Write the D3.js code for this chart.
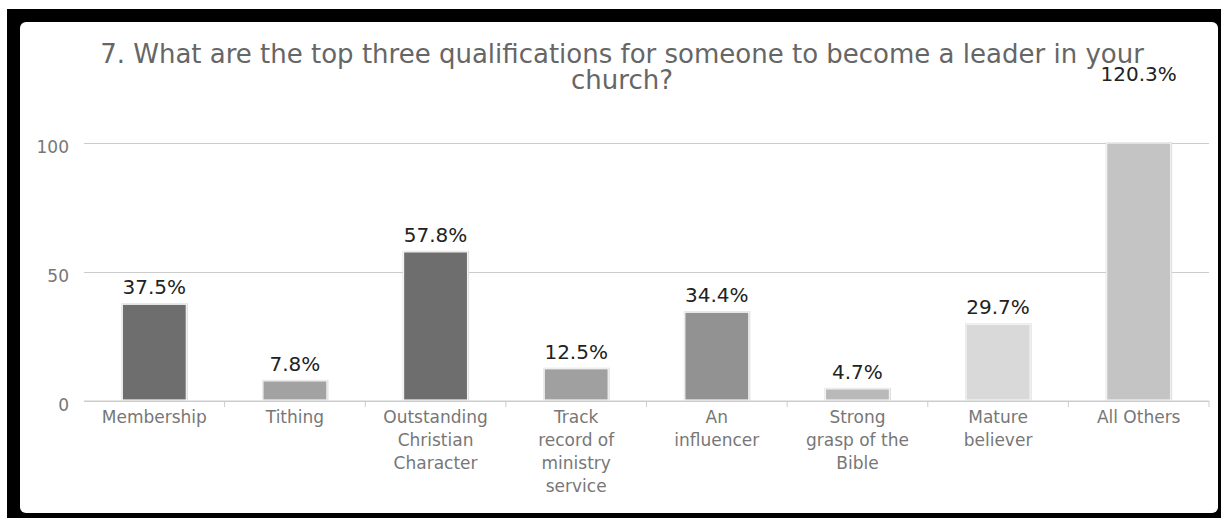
<!DOCTYPE html>
<html>
<head>
<meta charset="utf-8">
<script src="https://cdn.jsdelivr.net/npm/d3@7"></script>
<style>
  html, body { margin: 0; padding: 0; background: #fff; }
  svg { display: block; font-family: "DejaVu Sans", sans-serif; }
</style>
</head>
<body>
<svg id="chart" width="1221" height="518"></svg>
<script>
// Survey question 7: top qualifications for church leadership (percent of respondents)
const titleLines = [
  "7. What are the top three qualifications for someone to become a leader in your",
  "church?"
];
const categories = [
  "Membership", "Tithing", "Outstanding Christian Character",
  "Track record of ministry service", "An influencer",
  "Strong grasp of the Bible", "Mature believer", "All Others"
];
const categoryLines = [
  ["Membership"], ["Tithing"], ["Outstanding", "Christian", "Character"],
  ["Track", "record of", "ministry", "service"], ["An", "influencer"],
  ["Strong", "grasp of the", "Bible"], ["Mature", "believer"], ["All Others"]
];
const values = [37.5, 7.8, 57.8, 12.5, 34.4, 4.7, 29.7, 120.3];
const barColors = ["#6e6e6e", "#a2a2a2", "#6e6e6e", "#a0a0a0", "#929292", "#b9b9b9", "#d9d9d9", "#c4c4c4"];
const yTicks = [0, 50, 100];

const svg = d3.select("#chart");

// frame and card
svg.append("rect").attr("x", 7).attr("y", 9).attr("width", 1214).attr("height", 509).attr("fill", "#000");
svg.append("rect").attr("x", 20).attr("y", 22).attr("width", 1198).attr("height", 491)
  .attr("rx", 6).attr("ry", 6).attr("fill", "#fff");

const plot = { left: 84, right: 1209, top: 143, bottom: 401 };

const x = d3.scaleBand().domain(categories).range([plot.left, plot.right]).padding(0);
const y = d3.scaleLinear().domain([0, 100]).range([plot.bottom, plot.top]).clamp(true);
const yLabel = d3.scaleLinear().domain([0, 100]).range([plot.bottom, plot.top]);

// title
svg.append("text")
  .attr("x", 622).attr("y", 63)
  .attr("text-anchor", "middle")
  .attr("fill", "#666")
  .style("font-size", "26px")
  .selectAll("tspan").data(titleLines).join("tspan")
  .attr("x", 622).attr("dy", (d, i) => i === 0 ? 0 : 26)
  .text(d => d);

// y axis with gridlines
const yAxis = svg.append("g")
  .attr("transform", `translate(${plot.left},0)`)
  .call(d3.axisLeft(y).tickValues(yTicks).tickSize(-(plot.right - plot.left)).tickPadding(15).tickFormat(d3.format("d")));
yAxis.select(".domain").remove();
yAxis.selectAll(".tick line").attr("stroke", "#cccccc").attr("stroke-width", 1);
yAxis.selectAll(".tick text")
  .attr("fill", "#777").style("font-size", "17px").style("font-family", "DejaVu Sans")
  .attr("dy", "0.55em");

// x axis: boundary ticks and wrapped labels
const xg = svg.append("g").attr("transform", `translate(0,${plot.bottom})`);
xg.selectAll("line.tick").data(categories).join("line")
  .attr("x1", d => x(d) + x.bandwidth()).attr("x2", d => x(d) + x.bandwidth())
  .attr("y1", 0).attr("y2", 6)
  .attr("stroke", "#cccccc");
xg.selectAll("text").data(categories).join("text")
  .attr("text-anchor", "middle")
  .attr("fill", "#777")
  .style("font-size", "17px")
  .each(function(d, i) {
    d3.select(this).selectAll("tspan").data(categoryLines[i]).join("tspan")
      .attr("x", x(d) + x.bandwidth() / 2)
      .attr("y", (t, j) => 22 + j * 23)
      .text(t => t);
  });

// bars
const barW = x.bandwidth() * 0.455;
const bars = svg.append("g");
bars.selectAll("rect.shadow").data(categories).join("rect")
  .attr("x", d => x(d) + (x.bandwidth() - barW) / 2 - 1)
  .attr("y", (d, i) => y(values[i]) - 1)
  .attr("width", barW + 2.5)
  .attr("height", (d, i) => plot.bottom - y(values[i]))
  .attr("fill", "#dcdcdc");
bars.selectAll("rect.bar").data(categories).join("rect")
  .attr("x", d => x(d) + (x.bandwidth() - barW) / 2)
  .attr("y", (d, i) => y(values[i]))
  .attr("width", barW)
  .attr("height", (d, i) => plot.bottom - 1 - y(values[i]))
  .attr("fill", (d, i) => barColors[i])
  .attr("stroke", "#f4f4f4").attr("stroke-width", 1.2);

// value labels
svg.append("g").selectAll("text").data(categories).join("text")
  .attr("x", d => x(d) + x.bandwidth() / 2)
  .attr("y", (d, i) => yLabel(values[i]) - 10)
  .attr("text-anchor", "middle")
  .attr("fill", "#222")
  .style("font-size", "20px")
  .text((d, i) => values[i].toFixed(1) + "%");

// baseline
svg.append("line").attr("x1", plot.left).attr("x2", plot.right)
  .attr("y1", plot.bottom).attr("y2", plot.bottom).attr("stroke", "#cccccc");
</script>
</body>
</html>
